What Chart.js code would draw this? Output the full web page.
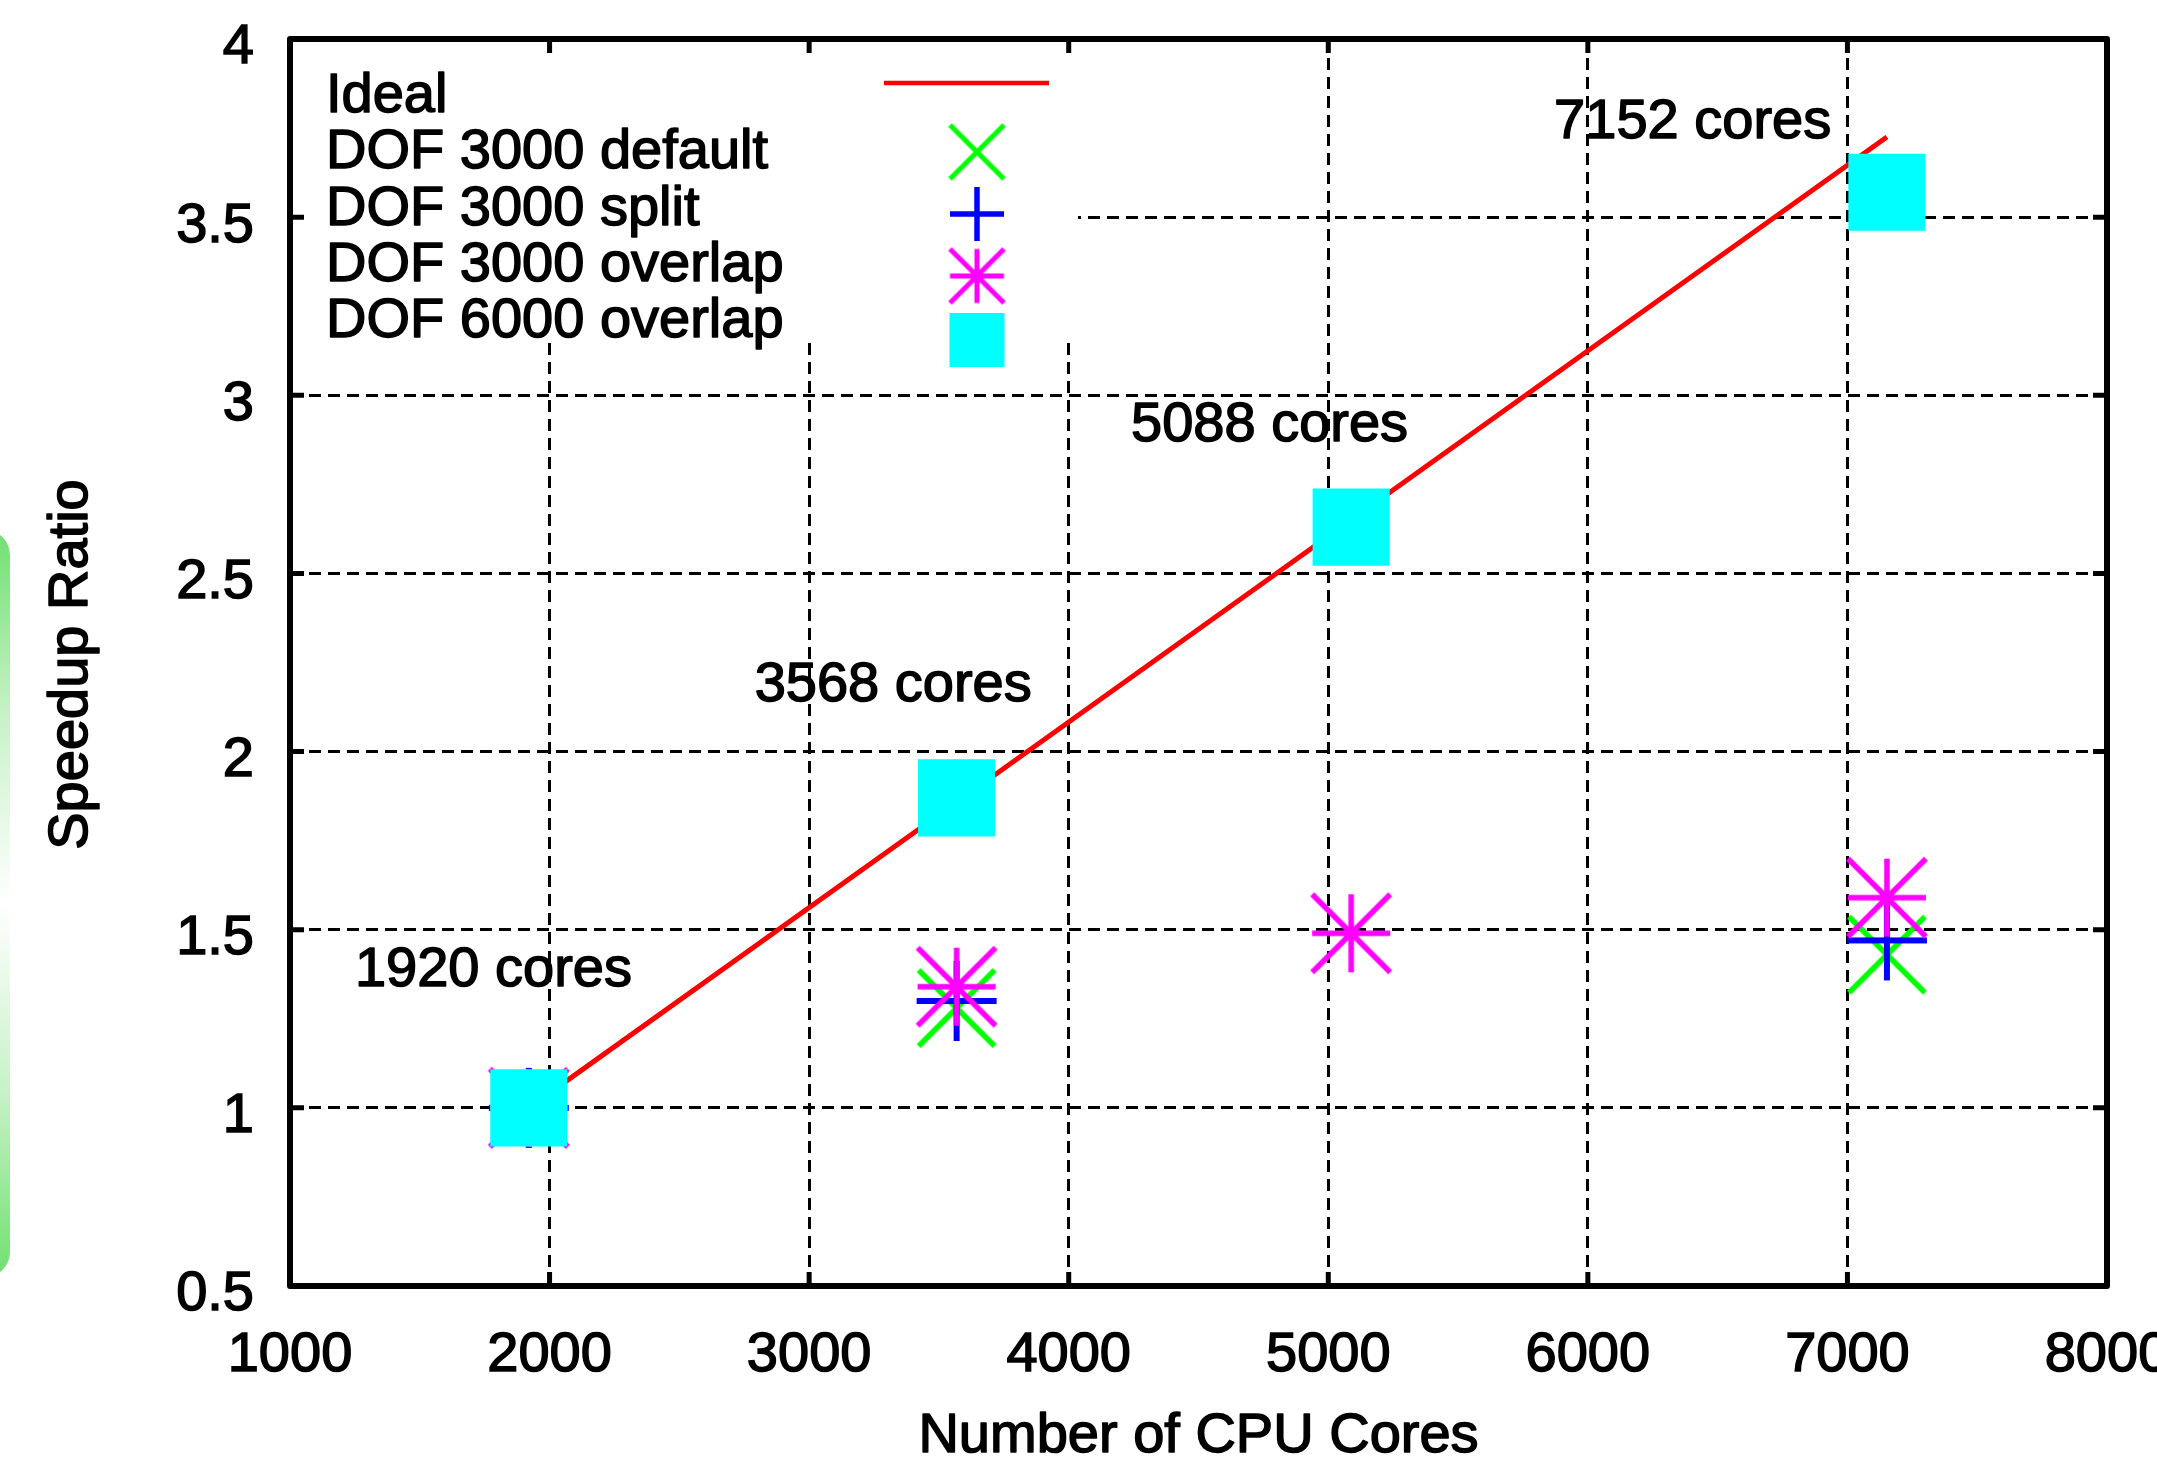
<!DOCTYPE html>
<html>
<head>
<meta charset="utf-8">
<script src="https://cdn.jsdelivr.net/npm/chart.js@4.4.1/dist/chart.umd.min.js"></script>
<style>
  html, body { margin: 0; padding: 0; background: #fff; }
  #wrap { position: relative; width: 2157px; height: 1462px; overflow: hidden; }
  #tab {
    position: absolute; left: -40px; top: 530px; width: 50px; height: 747px;
    border-radius: 50px; z-index: 2;
    background: linear-gradient(to bottom, #70e070 0%, #c8f2c8 25%, #ffffff 50%, #c8f2c8 75%, #70e070 100%);
  }
  canvas { position: absolute; left: 0; top: 0; }
</style>
</head>
<body>
<div id="wrap">
  <canvas id="chart" width="2157" height="1462"></canvas>
  <div id="tab"></div>
</div>
<script>
// data
const cores = [1920, 3568, 5088, 7152];
const idealSpeedup = [1.0, 1.858, 2.65, 3.725];
const dof3000Default = [1.0, 1.28, null, 1.43];
const dof3000Split = [1.0, 1.3, null, 1.47];
const dof3000Overlap = [1.0, 1.34, 1.49, 1.59];
const dof6000Overlap = [1.0, 1.87, 2.63, 3.57];

const seriesNames = ["Ideal", "DOF 3000 default", "DOF 3000 split", "DOF 3000 overlap", "DOF 6000 overlap"];
const xTickLabels = ["1000", "2000", "3000", "4000", "5000", "6000", "7000", "8000"];
const yTickLabels = ["0.5", "1", "1.5", "2", "2.5", "3", "3.5", "4"];
const xTitle = "Number of CPU Cores";
const yTitle = "Speedup Ratio";

// text labels placed in data coordinates (like gnuplot "set label ... at x,y")
const noteText = ["1920 cores", "3568 cores", "5088 cores", "7152 cores"];
const noteX = [1250, 2790, 4240, 5870];
const noteY = [1.385, 2.185, 2.915, 3.765];

const FONT = '"Liberation Sans", Arial, sans-serif';
Chart.defaults.font.family = FONT;
Chart.defaults.color = "#000";

const toPoints = (vals) =>
  cores.map((c, i) => ({ x: c, y: vals[i] })).filter((p) => p.y !== null);

// gnuplot-like line markers
function markerCanvas(kind, color, half, lw) {
  const size = Math.ceil(2 * half + lw + 4);
  const c = document.createElement("canvas");
  c.width = c.height = size;
  const g = c.getContext("2d");
  const m = size / 2;
  g.strokeStyle = color;
  g.lineWidth = lw;
  g.beginPath();
  if (kind === "plus" || kind === "star") {
    g.moveTo(m - half, m); g.lineTo(m + half, m);
    g.moveTo(m, m - half); g.lineTo(m, m + half);
  }
  if (kind === "x" || kind === "star") {
    g.moveTo(m - half, m - half); g.lineTo(m + half, m + half);
    g.moveTo(m - half, m + half); g.lineTo(m + half, m - half);
  }
  g.stroke();
  return c;
}

const xMark = markerCanvas("x", "#00ff00", 38, 5.5);
const plusMark = markerCanvas("plus", "#0000ff", 40, 6);
const starMark = markerCanvas("star", "#ff00ff", 39, 5.5);
const xKey = markerCanvas("x", "#00ff00", 27, 5);
const plusKey = markerCanvas("plus", "#0000ff", 27, 5.5);
const starKey = markerCanvas("star", "#ff00ff", 27, 5);

// slightly heavier text, like the reference
function heavyText(ctx, t, x, y) {
  ctx.fillText(t, x, y);
  ctx.strokeText(t, x, y);
}

const framePlugin = {
  id: "frame",
  afterDatasetsDraw(chart) {
    const { ctx, chartArea: a, scales } = chart;
    const x = scales.x, y = scales.y;
    ctx.save();

    ctx.font = "56px " + FONT;
    ctx.fillStyle = "#000";
    ctx.strokeStyle = "#000";
    ctx.lineWidth = 1.5;
    ctx.lineJoin = "round";
    ctx.textBaseline = "middle";
    ctx.textAlign = "left";
    noteText.forEach((t, i) => {
      heavyText(ctx, t, x.getPixelForValue(noteX[i]), y.getPixelForValue(noteY[i]));
    });

    // axis titles
    ctx.textAlign = "center";
    heavyText(ctx, xTitle, (a.left + a.right) / 2, 1437);
    ctx.save();
    ctx.translate(72, (a.top + a.bottom) / 2 + 2);
    ctx.rotate(-Math.PI / 2);
    heavyText(ctx, yTitle, 0, 0);
    ctx.restore();
    ctx.textAlign = "left";

    // key (opaque box over the grid)
    ctx.fillStyle = "#fff";
    ctx.fillRect(a.left, a.top, 788, 297);
    const textY = [58, 114, 171, 227, 283];
    ctx.fillStyle = "#000";
    seriesNames.forEach((n, i) => heavyText(ctx, n, a.left + 36, a.top + textY[i]));

    const kx = a.left + 687;
    ctx.strokeStyle = "#ff0000";
    ctx.lineWidth = 4.5;
    ctx.beginPath();
    ctx.moveTo(a.left + 594, a.top + 44);
    ctx.lineTo(a.left + 759, a.top + 44);
    ctx.stroke();
    [[xKey, 113], [plusKey, 175], [starKey, 237]].forEach(([img, dy]) => {
      ctx.drawImage(img, kx - img.width / 2, a.top + dy - img.height / 2);
    });
    ctx.fillStyle = "#00ffff";
    ctx.fillRect(kx - 27.5, a.top + 301 - 27, 55, 54);

    // inward tick marks on all four sides
    ctx.strokeStyle = "#000";
    ctx.lineWidth = 5;
    ctx.beginPath();
    x.ticks.forEach((t) => {
      const px = x.getPixelForValue(t.value);
      ctx.moveTo(px, a.bottom); ctx.lineTo(px, a.bottom - 14);
      ctx.moveTo(px, a.top); ctx.lineTo(px, a.top + 14);
    });
    y.ticks.forEach((t) => {
      const py = y.getPixelForValue(t.value);
      ctx.moveTo(a.left, py); ctx.lineTo(a.left + 14, py);
      ctx.moveTo(a.right, py); ctx.lineTo(a.right - 14, py);
    });
    ctx.stroke();

    ctx.lineWidth = 6;
    ctx.strokeRect(a.left, a.top, a.right - a.left, a.bottom - a.top);
    ctx.restore();
  },
};

new Chart(document.getElementById("chart").getContext("2d"), {
  type: "scatter",
  data: {
    datasets: [
      {
        label: seriesNames[0],
        data: toPoints(idealSpeedup),
        showLine: true,
        borderColor: "#ff0000",
        borderWidth: 5,
        pointRadius: 0,
        tension: 0,
        order: 5,
      },
      {
        label: seriesNames[1],
        data: toPoints(dof3000Default),
        pointStyle: xMark,
        pointRadius: 5,
        order: 4,
      },
      {
        label: seriesNames[2],
        data: toPoints(dof3000Split),
        pointStyle: plusMark,
        pointRadius: 5,
        order: 3,
      },
      {
        label: seriesNames[3],
        data: toPoints(dof3000Overlap),
        pointStyle: starMark,
        pointRadius: 5,
        order: 2,
      },
      {
        label: seriesNames[4],
        data: toPoints(dof6000Overlap),
        pointStyle: "rect",
        pointRadius: 54.5,
        pointBackgroundColor: "#00ffff",
        pointBorderWidth: 0,
        order: 1,
      },
    ],
  },
  options: {
    responsive: false,
    animation: false,
    devicePixelRatio: 1,
    layout: { autoPadding: false, padding: { top: 39, right: 50, left: 0, bottom: 0 } },
    plugins: { legend: { display: false }, tooltip: { enabled: false } },
    scales: {
      x: {
        type: "linear",
        min: 1000,
        max: 8000,
        ticks: {
          stepSize: 1000,
          padding: 36,
          font: { size: 56 },
          maxRotation: 0,
          textStrokeColor: "#000",
          textStrokeWidth: 1.5,
          callback: (v, i) => xTickLabels[i],
        },
        grid: { color: "#000", lineWidth: 3, drawTicks: false },
        border: { display: false, dash: [12, 7] },
        afterFit(s) {
          s.height = 176;
          s.paddingLeft = 0;
          s.paddingRight = 0;
        },
      },
      y: {
        type: "linear",
        min: 0.5,
        max: 4,
        ticks: {
          stepSize: 0.5,
          padding: 36,
          labelOffset: 9,
          font: { size: 56 },
          textStrokeColor: "#000",
          textStrokeWidth: 1.5,
          callback: (v, i) => yTickLabels[i],
        },
        grid: { color: "#000", lineWidth: 3, drawTicks: false },
        border: { display: false, dash: [12, 7] },
        afterFit(s) {
          s.width = 290;
          s.paddingTop = 0;
          s.paddingBottom = 0;
        },
      },
    },
  },
  plugins: [framePlugin],
});
</script>
</body>
</html>
